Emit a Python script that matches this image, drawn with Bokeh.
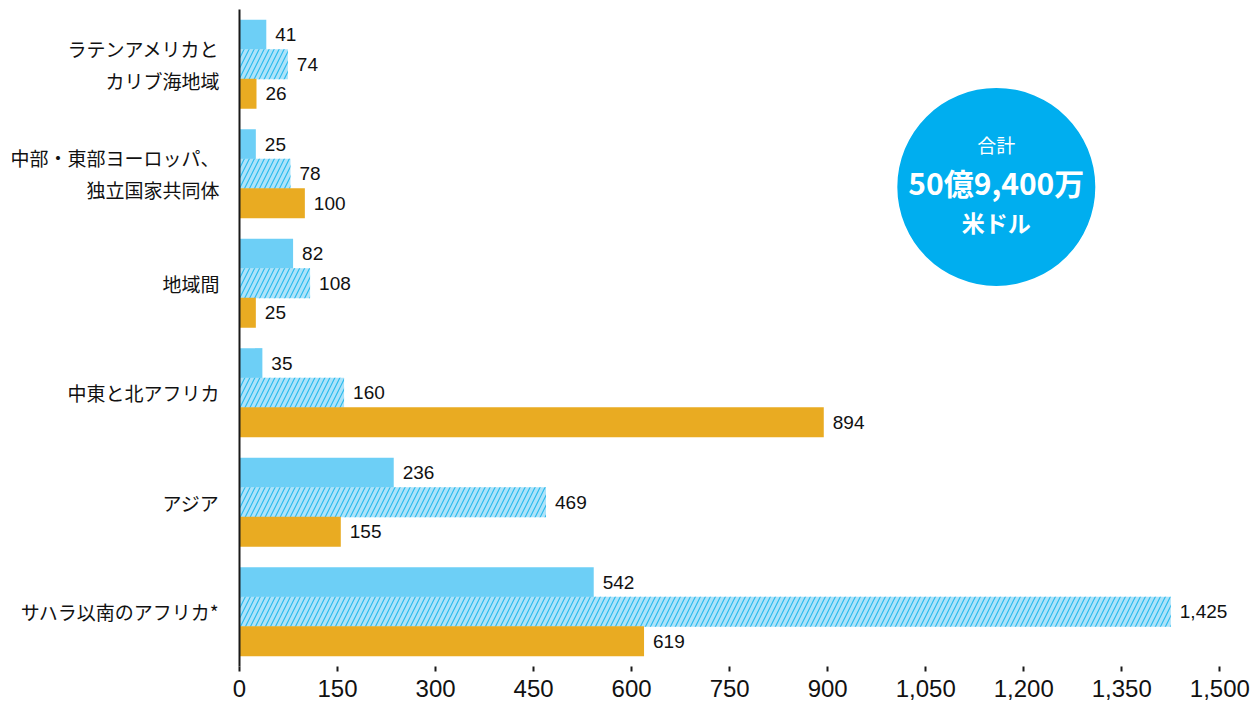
from bokeh.plotting import figure
from bokeh.models import ColumnDataSource, FactorRange, Range1d, FixedTicker, NumeralTickFormatter
from bokeh.transform import dodge
from bokeh.core.properties import value
from bokeh.embed import file_html
from bokeh.resources import INLINE

# ---- data ----
regions = [
    "ラテンアメリカと\nカリブ海地域",
    "中部・東部ヨーロッパ、\n独立国家共同体",
    "地域間",
    "中東と北アフリカ",
    "アジア",
    "サハラ以南のアフリカ*",
]
series_top = [41, 25, 82, 35, 236, 542]        # solid light blue
series_mid = [74, 78, 108, 160, 469, 1425]     # hatched
series_bot = [26, 100, 25, 894, 155, 619]      # orange
x_ticks = [0, 150, 300, 450, 600, 750, 900, 1050, 1200, 1350, 1500]
total_lines = ["合計", "50億9,400万", "米ドル"]

JP = "Noto Sans CJK JP"
NUM = "Liberation Sans"

src = ColumnDataSource(dict(
    region=regions,
    top=series_top, mid=series_mid, bot=series_bot,
    top_lbl=[f"{v:,}" for v in series_top],
    mid_lbl=[f"{v:,}" for v in series_mid],
    bot_lbl=[f"{v:,}" for v in series_bot],
))

p = figure(width=1258, height=705, output_backend="svg", toolbar_location=None,
           y_range=FactorRange(factors=regions[::-1], range_padding=0),
           x_range=Range1d(0, 1550),
           min_border_left=239, min_border_right=6, min_border_top=9, min_border_bottom=39)
p.outline_line_color = None
p.xgrid.grid_line_color = None
p.ygrid.grid_line_color = None
p.background_fill_color = "white"

off = 0.27
h = 0.275
p.hbar(y=dodge("region", off, range=p.y_range), right="top", height=h, left=0, source=src,
       fill_color="#6dcff6", line_color=None)
p.hbar(y=dodge("region", 0, range=p.y_range), right="mid", height=h, left=0, source=src,
       fill_color="#ade3fa", line_color=None, hatch_pattern="/", hatch_color="#2bbbed",
       hatch_scale=10, hatch_weight=1.2)
p.hbar(y=dodge("region", -off, range=p.y_range), right="bot", height=h, left=0, source=src,
       fill_color="#e9ab22", line_color=None)

for col, o in (("top", off), ("mid", 0), ("bot", -off)):
    p.text(x=col, y=dodge("region", o, range=p.y_range), text=col + "_lbl", source=src,
           x_offset=9, text_baseline="middle", text_align="left",
           text_font=value(NUM), text_font_size="19px", text_color="#111111")

# total circle
cx = 1158
csrc = ColumnDataSource(dict(x=[cx], y=[regions[1]]))
p.scatter(x="x", y=dodge("y", -0.12, range=p.y_range), source=csrc, marker="circle",
          size=198, fill_color="#00aeef", line_color=None)
for t, yo, fs, st in ((total_lines[0], -42, "19px", "normal"),
                      (total_lines[1], -5, "30px", "bold"),
                      (total_lines[2], 35, "23px", "bold")):
    p.text(x="x", y=dodge("y", -0.12, range=p.y_range), text="t",
           source=ColumnDataSource(dict(x=[cx], y=[regions[1]], t=[t])),
           y_offset=yo, text_align="center", text_baseline="middle", text_font=value(JP),
           text_font_size=fs, text_font_style=st, text_color="white")

# axes
xa = p.xaxis[0]
xa.ticker = FixedTicker(ticks=x_ticks)
xa.formatter = NumeralTickFormatter(format="0,0")
xa.axis_line_color = None
xa.major_tick_line_color = "#1a1a1a"
xa.major_tick_line_width = 2
xa.major_tick_in = 0
xa.major_tick_out = 5
xa.minor_tick_line_color = None
xa.major_label_text_font = NUM
xa.major_label_text_font_size = "24px"
xa.major_label_text_color = "#111111"
xa.major_label_standoff = 8

ya = p.yaxis[0]
ya.axis_line_color = "#1a1a1a"
ya.axis_line_width = 2
ya.major_tick_line_color = None
ya.minor_tick_line_color = None
ya.major_label_text_font = JP
ya.major_label_text_font_size = "19px"
ya.major_label_text_color = "#111111"
ya.major_label_standoff = 14

open("out.html", "w").write(file_html(p, INLINE))
